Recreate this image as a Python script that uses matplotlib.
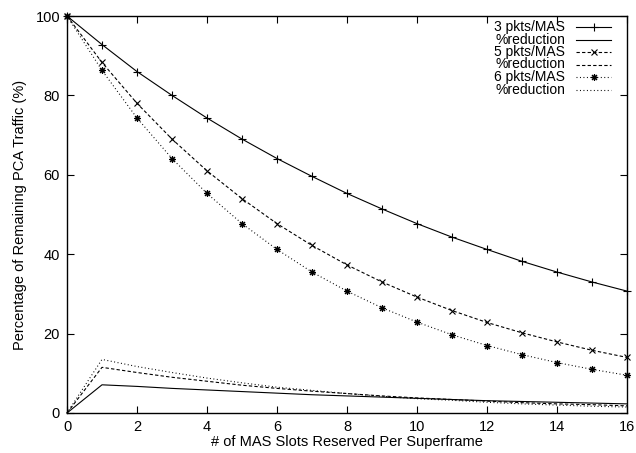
import matplotlib
matplotlib.use("Agg")
import matplotlib.pyplot as plt
from matplotlib.lines import Line2D

plt.rcParams['font.family'] = ['Liberation Sans', 'DejaVu Sans']
plt.rcParams['lines.scale_dashes'] = False

slots = list(range(0, 17))
pkts3 = [100, 92.8, 86.0, 80.0, 74.3, 69.0, 64.1, 59.6, 55.3, 51.4, 47.7, 44.3, 41.2, 38.2, 35.5, 33.0, 30.7]
pkts5 = [100, 88.3, 78.0, 69.0, 61.0, 54.0, 47.7, 42.2, 37.3, 33.0, 29.2, 25.8, 22.8, 20.2, 17.9, 15.8, 14.0]
pkts6 = [100, 86.3, 74.3, 64.1, 55.3, 47.7, 41.2, 35.5, 30.7, 26.5, 22.9, 19.7, 17.0, 14.7, 12.7, 11.0, 9.5]
red3 = [0, 7.1, 6.7, 6.2, 5.8, 5.4, 5.0, 4.6, 4.3, 4.0, 3.7, 3.4, 3.1, 2.9, 2.7, 2.5, 2.3]
red5 = [0, 11.5, 10.2, 9.0, 8.0, 7.0, 6.2, 5.5, 4.9, 4.3, 3.8, 3.4, 3.0, 2.6, 2.3, 2.1, 1.8]
red6 = [0, 13.5, 11.7, 10.2, 8.8, 7.6, 6.5, 5.7, 4.9, 4.2, 3.6, 3.2, 2.7, 2.3, 2.0, 1.7, 1.5]

labels = ['3 pkts/MAS', '%reduction', '5 pkts/MAS', '%reduction', '6 pkts/MAS', '%reduction']

xticks = list(range(0, 17, 2))
yticks = list(range(0, 101, 20))

fig = plt.figure(figsize=(6.36, 4.53), dpi=100)
ax = fig.add_axes([67/636, (453-413)/453, (627-67)/636, (413-16)/453])

solid = '-'
dashed = (0, (2.4, 1.6))
dotted = (0, (0.7, 1.8))
asterisk = (8, 2, 0)
lw = 0.8

series = [
    (pkts3, red3, solid, '+', 6),
    (pkts5, red5, dashed, 'x', 5),
    (pkts6, red6, dotted, asterisk, 5),
]

for main, red, ls, mk, ms in series:
    ax.plot(slots, main, color='black', lw=lw, linestyle=ls, marker=mk,
            markersize=ms, markeredgewidth=0.8, clip_on=False)
    ax.plot(slots, red, color='black', lw=lw, linestyle=ls, clip_on=False)

ax.set_xlim(0, 16)
ax.set_ylim(0, 100)
ax.set_xticks(xticks)
ax.set_yticks(yticks)
ax.tick_params(direction='in', length=5, width=0.8, top=True, right=True,
               labelsize=10.5, pad=5)
for s in ax.spines.values():
    s.set_linewidth(1.0)

ax.set_xlabel('# of MAS Slots Reserved Per Superframe', fontsize=10.5, labelpad=1)
ax.set_ylabel('Percentage of Remaining PCA Traffic (%)', fontsize=10.5, labelpad=6)

# gnuplot-style key: right-aligned text, sample on the right
row_y = [26.7, 39.5, 52.3, 64.5, 77, 89.5]
styles = [(solid, '+', 6), (solid, None, 0), (dashed, 'x', 5), (dashed, None, 0),
          (dotted, asterisk, 5), (dotted, None, 0)]
def ax_x(px):
    return (px - 67) / (627 - 67)
def ax_y(py):
    return (413 - py) / (413 - 16)
for lab, yy, (ls, mk, ms) in zip(labels, row_y, styles):
    ax.text(ax_x(565), ax_y(yy), lab, transform=ax.transAxes, ha='right',
            va='center', fontsize=10)
    ax.add_line(Line2D([ax_x(576), ax_x(611)], [ax_y(yy), ax_y(yy)],
                       transform=ax.transAxes, color='black', lw=lw, linestyle=ls))
    if mk is not None:
        ax.add_line(Line2D([ax_x(593.5)], [ax_y(yy)], transform=ax.transAxes,
                           color='black', marker=mk, markersize=ms,
                           markeredgewidth=0.8, linestyle='none'))

fig.savefig('out.png', dpi=100)
